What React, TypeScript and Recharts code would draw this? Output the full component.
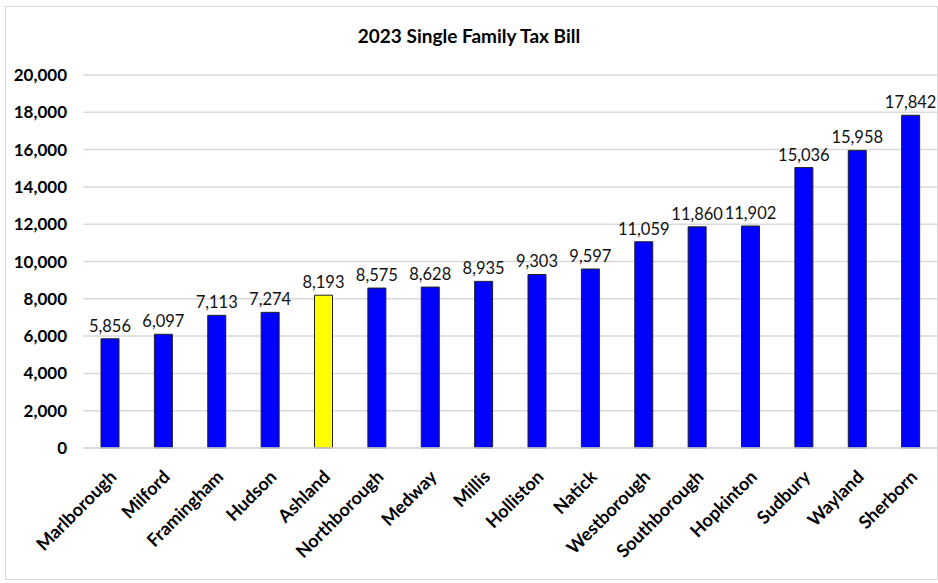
import { Bar, BarChart, CartesianGrid, Cell, LabelList, XAxis, YAxis } from 'recharts'

const towns = [
  'Marlborough',
  'Milford',
  'Framingham',
  'Hudson',
  'Ashland',
  'Northborough',
  'Medway',
  'Millis',
  'Holliston',
  'Natick',
  'Westborough',
  'Southborough',
  'Hopkinton',
  'Sudbury',
  'Wayland',
  'Sherborn',
]
const taxBills = [
  5856, 6097, 7113, 7274, 8193, 8575, 8628, 8935, 9303, 9597, 11059, 11860, 11902, 15036,
  15958, 17842,
]
const yTicks = [0, 2000, 4000, 6000, 8000, 10000, 12000, 14000, 16000, 18000, 20000]
const highlightTown = 'Ashland'

const FONT = 'Lato, "Open Sans", sans-serif'

const data = towns.map((t, i) => ({ town: t, bill: taxBills[i] }))

function TownTick(props: any) {
  const { x, y, payload } = props
  return (
    <g transform={`translate(${x + 8},${y + 22})`}>
      <text
        textAnchor="end"
        transform="rotate(-45)"
        fontFamily={FONT}
        fontWeight={700}
        fontSize={18}
        fill="#000"
      >
        {payload.value}
      </text>
    </g>
  )
}

export default function App() {
  return (
    <div style={{ position: 'absolute', left: 0, top: 0, width: 938, height: 583, background: '#fff' }}>
      <div
        style={{
          position: 'absolute',
          left: 5,
          top: 6,
          width: 931,
          height: 572,
          border: '1px solid #d9d9d9',
        }}
      />
      <div
        style={{
          position: 'absolute',
          left: 0,
          top: 24,
          width: 938,
          textAlign: 'center',
          fontFamily: FONT,
          fontWeight: 700,
          fontSize: 19,
          color: '#000',
        }}
      >
        2023 Single Family Tax Bill
      </div>
      <div style={{ position: 'absolute', left: 0, top: 0 }}>
        <BarChart
          width={938}
          height={583}
          data={data}
          margin={{ top: 75, right: 1, bottom: 5, left: 8 }}
          barCategoryGap="33%"
        >
          <CartesianGrid vertical={false} stroke="#d9d9d9" strokeWidth={1.5} />
          <XAxis
            dataKey="town"
            interval={0}
            height={130}
            tickLine={false}
            axisLine={{ stroke: '#d9d9d9', strokeWidth: 1.5 }}
            tick={<TownTick />}
          />
          <YAxis
            width={75}
            domain={[0, 20000]}
            ticks={yTicks}
            interval={0}
            axisLine={false}
            tickLine={false}
            tickFormatter={(v: number) => v.toLocaleString('en-US')}
            tick={{ fontFamily: FONT, fontWeight: 700, fontSize: 17, fill: '#000', dx: -8 }}
          />
          <Bar dataKey="bill" barSize={18} stroke="#222" strokeWidth={1} isAnimationActive={false}>
            {data.map((d) => (
              <Cell key={d.town} fill={d.town === highlightTown ? '#ffff00' : '#0000ff'} />
            ))}
            <LabelList
              dataKey="bill"
              position="top"
              offset={7}
              formatter={(v: any) => Number(v).toLocaleString('en-US')}
              style={{ fontFamily: FONT, fontSize: 16.5, fill: '#111' }}
            />
          </Bar>
        </BarChart>
      </div>
    </div>
  )
}
